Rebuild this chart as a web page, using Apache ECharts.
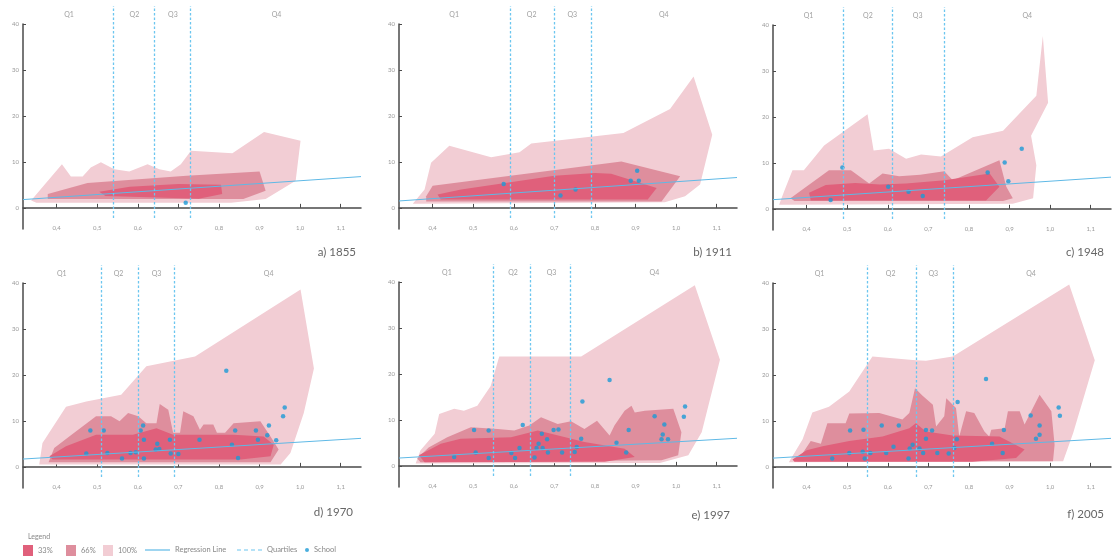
<!DOCTYPE html>
<html>
<head>
<meta charset="utf-8">
<script src="https://cdn.jsdelivr.net/npm/echarts@6/dist/echarts.min.js"></script>
<style>
  html, body { margin: 0; padding: 0; background: #fff; }
  #chart { width: 1114px; height: 560px; }
</style>
</head>
<body>
<div id="chart"></div>
<script>
// x range shared by every panel
var xMin = 0.317, xMax = 1.15;
var xTicks = [0.4, 0.5, 0.6, 0.7, 0.8, 0.9, 1.0, 1.1];
var yTicks = [0, 10, 20, 30, 40];
var panelTitles = ['a) 1855', 'b) 1911', 'c) 1948', 'd) 1970', 'e) 1997', 'f) 2005'];

// quartile boundaries per panel
var quart_1855 = [0.544, 0.639, 0.734];
var quart_1911 = [0.589, 0.699, 0.789];
var quart_1948 = [0.492, 0.610, 0.737];
var quart_1970 = [0.508, 0.597, 0.695];
var quart_1997 = [0.553, 0.643, 0.743];
var quart_2005 = [0.546, 0.668, 0.756];

// regression line: value at xMin and at xMax
var reg_1855 = [1.8, 6.8];
var reg_1911 = [1.5, 6.6];
var reg_1948 = [2.0, 6.9];
var reg_1970 = [1.7, 6.2];
var reg_1997 = [1.7, 6.0];
var reg_2005 = [1.9, 6.2];

// envelopes (polygon outlines) 100% / 66% / 33%
var env100_1855 = [[0.337,1.6],[0.36,4],[0.413,9.5],[0.435,6.8],[0.464,6.8],[0.484,8.8],[0.509,9.9],[0.542,8.4],[0.579,7.9],[0.624,9.5],[0.653,8.4],[0.681,7.9],[0.706,9.5],[0.731,12.4],[0.833,11.9],[0.911,16.5],[1.001,14.6],[0.989,5.9],[0.915,1.9],[0.83,1.1],[0.35,1.1]];
var env66_1855 = [[0.378,3.0],[0.476,5.4],[0.72,7.0],[0.9,7.9],[0.915,3.7],[0.86,1.9],[0.378,1.9]];
var env33_1855 = [[0.505,3.5],[0.58,4.6],[0.70,5.2],[0.805,5.0],[0.808,3.0],[0.75,2.0],[0.52,2.6]];

var env100_1911 = [[0.351,0.9],[0.38,4],[0.396,9.8],[0.441,13.5],[0.544,11.0],[0.614,12.1],[0.643,14.0],[0.87,16.3],[0.985,21.5],[1.043,28.6],[1.089,15.9],[1.059,5.1],[1.022,2.5],[0.972,1.2],[0.36,0.9]];
var env66_1911 = [[0.384,2.5],[0.40,4.8],[0.865,10.1],[1.01,6.9],[0.964,1.4],[0.384,1.4]];
var env33_1911 = [[0.412,2.9],[0.47,4.0],[0.70,7.0],[0.80,7.6],[0.84,7.4],[0.952,4.3],[0.93,1.8],[0.42,1.8]];

var env100_1948 = [[0.332,0.9],[0.344,3.7],[0.365,8.4],[0.393,8.4],[0.443,13.8],[0.55,20.6],[0.565,12.7],[0.603,13.1],[0.645,10.9],[0.682,11.8],[0.731,11.4],[0.809,15.6],[0.884,17.0],[0.966,24.6],[0.982,37.6],[0.995,23.1],[0.953,15.9],[0.966,9.5],[0.958,2.3],[0.908,1.1],[0.34,0.9]];
var env66_1948 = [[0.36,2.3],[0.455,8.4],[0.509,8.4],[0.554,5.5],[0.587,7.7],[0.628,7.1],[0.68,7.4],[0.739,8.2],[0.76,6.2],[0.875,10.6],[0.892,4.8],[0.908,2.3],[0.884,1.7],[0.37,1.7]];
var env33_1948 = [[0.406,3.5],[0.447,5.2],[0.52,5.6],[0.58,5.3],[0.645,5.5],[0.74,6.2],[0.851,7.7],[0.875,4.8],[0.842,1.8],[0.41,1.8]];

var env100_1970 = [[0.357,0.5],[0.365,5.2],[0.423,13.1],[0.473,14.2],[0.559,15.7],[0.621,21.9],[0.741,24.0],[1.001,38.6],[1.034,21.4],[1.009,11.7],[0.976,3.0],[0.952,0.5]];
var env66_1970 = [[0.38,1.0],[0.394,4.1],[0.431,6.6],[0.497,11.0],[0.534,11.0],[0.555,9.9],[0.576,11.7],[0.601,11.0],[0.621,9.5],[0.646,9.5],[0.654,13.7],[0.675,12.4],[0.687,7.4],[0.704,7.4],[0.712,12.1],[0.737,11.0],[0.753,8.1],[0.762,9.2],[0.786,9.2],[0.795,7.4],[0.815,7.4],[0.836,9.5],[0.902,9.9],[0.927,6.6],[0.947,3.8],[0.927,1.0]];
var env33_1970 = [[0.382,2.3],[0.423,4.5],[0.497,7.0],[0.588,7.0],[0.646,8.4],[0.687,7.0],[0.836,7.0],[0.91,6.6],[0.935,4.8],[0.927,2.3],[0.853,1.6],[0.39,1.6]];

var env100_1997 = [[0.358,0.5],[0.37,3.4],[0.405,7.0],[0.416,11.3],[0.453,12.4],[0.477,12.0],[0.51,13.1],[0.543,17.4],[0.564,23.8],[0.766,23.8],[1.046,39.3],[1.108,23.1],[1.063,7.3],[1.03,2.3],[0.96,0.6]];
var env66_1997 = [[0.362,1.6],[0.39,4.0],[0.436,6.2],[0.494,8.4],[0.56,8.0],[0.601,7.7],[0.638,8.8],[0.667,10.6],[0.708,9.1],[0.741,9.7],[0.774,8.0],[0.805,9.8],[0.836,6.6],[0.848,8.8],[0.873,12.0],[0.89,13.1],[0.898,11.6],[0.923,12.0],[0.993,12.4],[1.013,7.3],[1.005,2.3],[0.964,1.2],[0.37,0.8]];
var env33_1997 = [[0.366,2.3],[0.42,4.8],[0.469,5.9],[0.593,6.2],[0.659,7.7],[0.692,7.0],[0.774,5.2],[0.873,3.7],[0.898,1.9],[0.824,0.9],[0.38,0.8]];

var env100_2005 = [[0.356,1.0],[0.39,6.0],[0.414,11.8],[0.455,13.1],[0.505,16.4],[0.562,24.0],[0.669,23.2],[0.694,23.1],[0.76,24.0],[1.047,39.7],[1.11,23.2],[1.057,7.4],[1.032,1.2]];
var env66_2005 = [[0.377,1.2],[0.41,5.6],[0.435,5.0],[0.451,9.5],[0.496,9.5],[0.505,11.6],[0.579,11.7],[0.636,10.3],[0.653,11.7],[0.667,17.1],[0.685,15.5],[0.711,13.5],[0.719,8.8],[0.739,11.0],[0.744,14.9],[0.768,12.8],[0.776,6.6],[0.793,12.1],[0.813,11.7],[0.838,7.7],[0.85,6.6],[0.855,8.1],[0.888,8.4],[0.896,12.1],[0.925,12.1],[0.937,9.2],[0.974,15.7],[1.003,12.1],[1.011,4.8],[1.007,1.2]];
var env33_2005 = [[0.365,1.6],[0.40,3.6],[0.439,4.5],[0.505,5.6],[0.587,6.6],[0.653,8.4],[0.669,9.5],[0.694,7.7],[0.76,6.8],[0.875,6.6],[0.937,3.8],[0.916,1.9],[0.809,1.1],[0.37,1.1]];

// schools
var school_1855 = [[0.718,1.1]];
var school_1911 = [[0.575,5.2],[0.715,2.7],[0.752,4.0],[0.888,5.9],[0.904,8.1],[0.908,5.9]];
var school_1948 = [[0.459,1.9],[0.488,9.0],[0.601,4.8],[0.651,3.7],[0.686,2.8],[0.846,7.9],[0.888,10.1],[0.897,6.0],[0.93,13.1]];
var school_1970 = [[0.473,2.9],[0.483,7.9],[0.516,7.9],[0.525,3.0],[0.561,1.8],[0.582,3.0],[0.595,3.2],[0.607,7.9],[0.613,9.0],[0.615,5.9],[0.615,1.8],[0.648,5.0],[0.644,3.8],[0.653,3.9],[0.679,5.9],[0.681,2.9],[0.70,2.8],[0.752,5.9],[0.818,20.9],[0.832,4.8],[0.84,7.9],[0.847,1.9],[0.891,7.9],[0.896,5.9],[0.919,6.9],[0.923,9.0],[0.941,5.8],[0.958,11.0],[0.962,12.9]];
var school_1997 = [[0.453,1.9],[0.502,7.8],[0.506,2.9],[0.538,7.7],[0.538,1.7],[0.594,2.8],[0.603,1.7],[0.614,3.9],[0.622,8.9],[0.651,1.8],[0.656,3.9],[0.661,4.8],[0.669,7.0],[0.671,3.9],[0.682,5.8],[0.684,2.9],[0.698,7.8],[0.71,7.9],[0.719,2.9],[0.75,3.0],[0.755,4.1],[0.766,5.9],[0.769,14.0],[0.836,18.7],[0.853,5.0],[0.877,2.9],[0.883,7.8],[0.947,10.8],[0.964,5.8],[0.967,6.8],[0.971,9.0],[0.98,5.8],[1.019,10.7],[1.022,12.9]];
var school_2005 = [[0.463,1.8],[0.505,3.0],[0.507,7.9],[0.538,3.3],[0.54,8.1],[0.543,1.8],[0.557,3.0],[0.585,9.0],[0.596,3.0],[0.614,4.4],[0.627,9.0],[0.651,1.8],[0.654,4.0],[0.661,4.8],[0.678,4.0],[0.687,3.0],[0.694,8.0],[0.694,6.1],[0.709,7.9],[0.722,3.0],[0.75,2.9],[0.764,4.1],[0.77,6.0],[0.772,14.1],[0.842,19.1],[0.857,5.0],[0.883,3.0],[0.886,8.0],[0.952,11.2],[0.965,6.1],[0.974,7.0],[0.974,9.0],[1.021,12.9],[1.024,11.1]];

var panels = [
	{ env100: env100_1855, env66: env66_1855, env33: env33_1855, pts: school_1855, q: quart_1855, reg: reg_1855 },
	{ env100: env100_1911, env66: env66_1911, env33: env33_1911, pts: school_1911, q: quart_1911, reg: reg_1911 },
	{ env100: env100_1948, env66: env66_1948, env33: env33_1948, pts: school_1948, q: quart_1948, reg: reg_1948 },
	{ env100: env100_1970, env66: env66_1970, env33: env33_1970, pts: school_1970, q: quart_1970, reg: reg_1970 },
	{ env100: env100_1997, env66: env66_1997, env33: env33_1997, pts: school_1997, q: quart_1997, reg: reg_1997 },
	{ env100: env100_2005, env66: env66_2005, env33: env33_2005, pts: school_2005, q: quart_2005, reg: reg_2005 }
];

// layout
var lefts = [23, 399, 773, 23, 399, 773];
var tops = [24, 24, 25, 283, 282, 283];
var titleRights = [753, 377, 5, 756, 379, 5];
var titleTops = [241, 241, 241, 501, 504, 503];
var gridW = 338, gridH = 205;

var c100 = '#f2cdd4', c66 = '#de8e9d', c33 = '#e0607b';
var blueLine = '#5fb9e6', blueDash = '#6cc6ef', blueDot = '#1b9ad6';
var axisGrey = '#4a4a4a', labelGrey = '#999';

var chartObj = echarts.init(document.getElementById('chart'));

var grids = [], xAxes = [], yAxes = [], series = [], titles = [];

//envelope polygon drawn through the axis scales
function polySeries(name, poly, color, gi) {
	return {
		type: 'custom', name: name, xAxisIndex: gi, yAxisIndex: gi,
		data: poly, silent: true,
		itemStyle: { color: color },
		encode: { x: 0, y: 1 },
		renderItem: function (params, api) {
			if (params.dataIndex !== 0) return null;
			var pts = poly.map(function (p) { return api.coord(p); });
			return { type: 'polygon', shape: { points: pts }, style: { fill: color } };
		}
	};
}

for (var i = 0; i < 6; i++) {
	var p = panels[i];
	// main plot grid
	grids.push({ left: lefts[i], top: tops[i], width: gridW, height: gridH });
	xAxes.push({
		type: 'value', gridIndex: i, min: xMin, max: xMax, offset: -11,
		axisLine: { show: true, lineStyle: { color: axisGrey, width: 1.5 } },
		axisTick: { show: true, inside: true, length: 4, customValues: xTicks, lineStyle: { color: axisGrey } },
		axisLabel: {
			customValues: xTicks, margin: 7, fontSize: 6, color: labelGrey,
			formatter: function (v) { return v.toFixed(1).replace('.', ','); }
		},
		splitLine: { show: false }
	});
	yAxes.push({
		type: 'value', gridIndex: i, min: -4.6, max: 40,
		axisLine: { show: true, lineStyle: { color: axisGrey, width: 1.5 } },
		axisTick: { show: true, inside: true, length: 3, customValues: yTicks, lineStyle: { color: axisGrey } },
		axisLabel: { customValues: yTicks, margin: 4, fontSize: 6, color: labelGrey },
		splitLine: { show: false }
	});

	series.push(polySeries('100%', p.env100, c100, i));
	series.push(polySeries('66%', p.env66, c66, i));
	series.push(polySeries('33%', p.env33, c33, i));
	series.push({
		type: 'line', name: 'Regression Line', xAxisIndex: i, yAxisIndex: i,
		data: [[xMin, p.reg[0]], [xMax, p.reg[1]]],
		symbol: 'none', silent: true,
		lineStyle: { color: blueLine, width: 1 }, itemStyle: { color: blueLine }
	});
	series.push({
		type: 'scatter', name: 'School', xAxisIndex: i, yAxisIndex: i,
		data: p.pts, symbolSize: 4.5, silent: true,
		itemStyle: { color: blueDot }
	});

	titles.push({
		text: panelTitles[i], right: titleRights[i], top: titleTops[i],
		textStyle: { fontSize: 11.5, fontWeight: 'normal', color: '#666', fontFamily: 'Lato' }
	});
}

// overlay grids for quartile lines and Q labels
for (var j = 0; j < 6; j++) {
	var gi = 6 + j;
	var q = panels[j].q;
	grids.push({ left: lefts[j], top: tops[j] - 18, width: gridW, height: 212 });
	xAxes.push({ type: 'value', gridIndex: gi, min: xMin, max: xMax, show: false });
	yAxes.push({ type: 'value', gridIndex: gi, min: 0, max: 1, show: false });
	series.push({
		type: 'line', name: 'Quartiles', xAxisIndex: gi, yAxisIndex: gi,
		data: [], symbol: 'none', silent: true,
		lineStyle: { color: blueDash, width: 1.3, type: [2.5, 2] }, itemStyle: { color: blueDash },
		markLine: {
			silent: true, symbol: ['none', 'none'], label: { show: false },
			lineStyle: { color: blueDash, width: 1.3, type: [2.5, 2] },
			data: q.map(function (v) { return { xAxis: v }; })
		}
	});
	var bounds = [xMin].concat(q).concat([xMax]);
	var qLabels = [];
	for (var k = 0; k < 4; k++) {
		qLabels.push({ name: 'Q' + (k + 1), value: [(bounds[k] + bounds[k + 1]) / 2, 0.958] });
	}
	series.push({
		type: 'scatter', xAxisIndex: gi, yAxisIndex: gi, silent: true,
		data: qLabels, symbolSize: 1, itemStyle: { color: 'rgba(0,0,0,0)' },
		label: { show: true, position: 'inside', formatter: '{b}', fontSize: 7, color: '#888' }
	});
}

titles.push({
	text: 'Legend', left: 23, top: 528,
	textStyle: { fontSize: 7, fontWeight: 'normal', color: '#888', fontFamily: 'Lato' }
});

var legendText = { fontSize: 7.5, color: '#888', fontFamily: 'Lato' };
function oneLegend(name, left, top, w, h, icon) {
	return {
		data: [name], left: left, top: top, itemWidth: w, itemHeight: h, icon: icon,
		textStyle: legendText, selectedMode: false, padding: 0
	};
}

var option = {
	animation: false,
	textStyle: { fontFamily: 'Lato' },
	title: titles,
	legend: [
		oneLegend('33%', 23, 545, 10, 11, 'rect'),
		oneLegend('66%', 66, 545, 10, 11, 'rect'),
		oneLegend('100%', 103, 545, 10, 11, 'rect'),
		oneLegend('Regression Line', 145, 546, 25, 1.2, 'rect'),
		oneLegend('Quartiles', 237, 546, 25, 1.3, 'path://M0,0h4v1h-4zM7,0h4v1h-4zM14,0h4v1h-4zM21,0h4v1h-4z'),
		oneLegend('School', 305, 546, 4, 4, 'circle')
	],
	grid: grids,
	xAxis: xAxes,
	yAxis: yAxes,
	series: series
};

chartObj.setOption(option);
</script>
</body>
</html>
